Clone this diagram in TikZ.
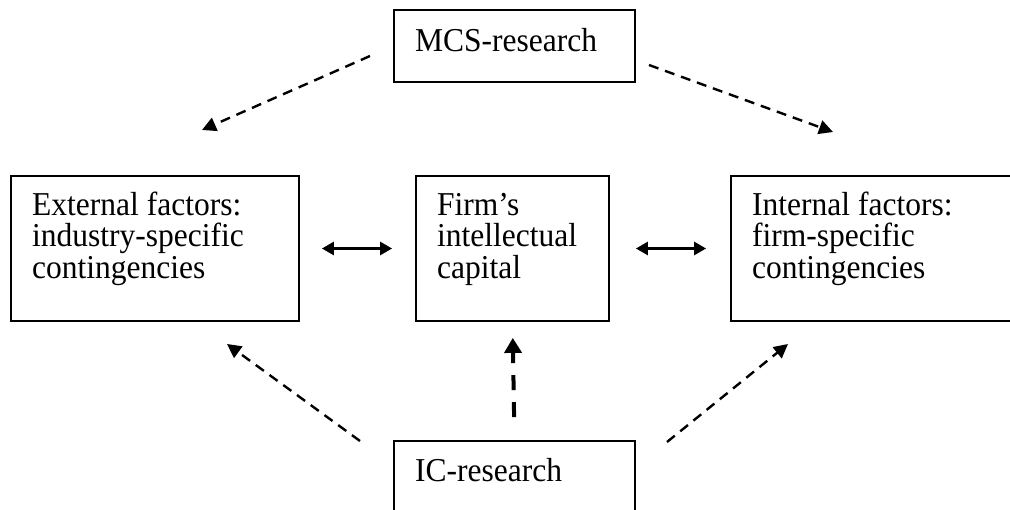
\documentclass[tikz,border=0pt]{standalone}
\usepackage{graphicx}
\usepackage{fontspec}
\setmainfont{Liberation Serif}
\usetikzlibrary{arrows.meta,calc}
\newcommand{\vstretch}[1]{\scalebox{1}[1.06]{#1}}
\tikzset{
  box/.style={draw=black, line width=1.8pt, rectangle, inner sep=0pt},
  txt/.style={anchor=base west, inner sep=0pt, font=\fontsize{31.5}{29.6}\selectfont},
  dasharrow/.style={line width=2.4pt, dash pattern=on 10pt off 7pt, -{Triangle[length=14pt,width=14pt]}},
  midarrow/.style={line width=4pt, dash pattern=on 15pt off 12pt, -{Triangle[length=15pt,width=17pt]}},
  dblarrow/.style={line width=2.7pt, {Triangle[length=12pt,width=13pt]}-{Triangle[length=12pt,width=13pt]}}
}
\begin{document}
\begin{tikzpicture}[x=1pt,y=-1pt]
\useasboundingbox (0,0) rectangle (1010,510);
\clip (0,0) rectangle (1010,510);
% boxes
\node[box, minimum width=241, minimum height=72] (mcs) at (514.5,46) {};
\node[box, minimum width=288, minimum height=145] (ext) at (155,248.5) {};
\node[box, minimum width=193, minimum height=145] (mid) at (512.5,248.5) {};
\node[box, minimum width=320, minimum height=145] (int) at (891,248.5) {};
\node[box, minimum width=241, minimum height=110] (ic) at (514.5,496) {};
% texts
\node[txt] (mcsT) at (415,52) {\vstretch{MCS-research}};
\node[txt] (extT) at (32,215.5) {\vstretch{\parbox[t]{260pt}{External factors:\\industry-specific\\contingencies}}};
\node[txt] (midT) at (437,215.5) {\vstretch{\parbox[t]{170pt}{Firm’s\\intellectual\\capital}}};
\node[txt] (intT) at (752,215.5) {\vstretch{\parbox[t]{260pt}{Internal factors:\\firm-specific\\contingencies}}};
\node[txt] (icT) at (415,482) {\vstretch{IC-research}};
% free ends
\coordinate (a1s) at (370,56);
\coordinate (a1e) at (202,130);
\coordinate (a2s) at (649,65);
\coordinate (a2e) at (833,132);
\coordinate (b1s) at (360,441);
\coordinate (b1e) at (227,344);
\coordinate (b3s) at (667,442);
\coordinate (b3e) at (788,344);
% connectors
\draw[dasharrow] (a1s) -- (a1e);
\draw[dasharrow] (a2s) -- (a2e);
\draw[dasharrow] (b1s) -- (b1e);
\draw[dasharrow] (b3s) -- (b3e);
\draw[midarrow, shorten <=23pt, shorten >=16pt] (ic.north) -- (mid.south);
\draw[dblarrow, shorten <=22pt, shorten >=23pt] (ext.east) -- (mid.west);
\draw[dblarrow, shorten <=26pt, shorten >=24pt] (mid.east) -- (int.west);
\end{tikzpicture}
\end{document}
